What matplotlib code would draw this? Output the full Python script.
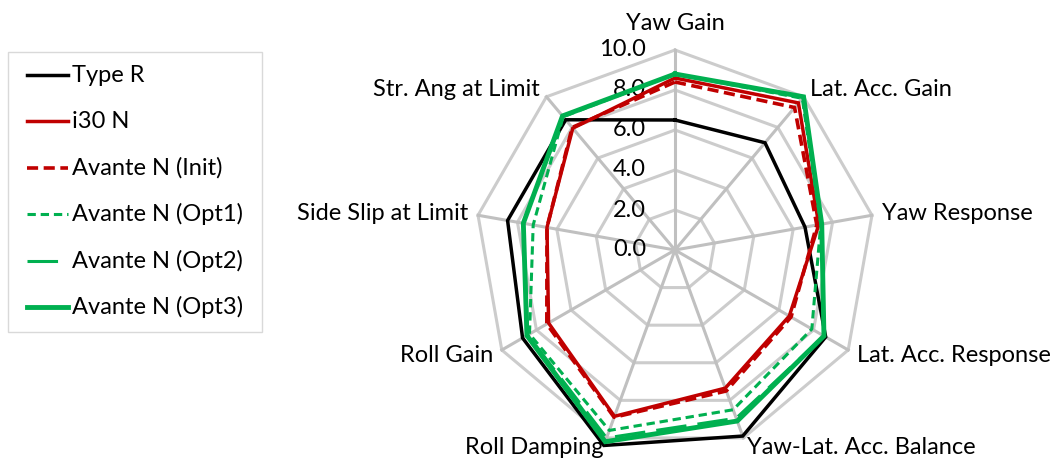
import numpy as np
import matplotlib
matplotlib.use("Agg")
import matplotlib.pyplot as plt
from matplotlib.patches import Rectangle
from matplotlib.lines import Line2D

plt.rcParams['font.family'] = ['Lato', 'DejaVu Sans']
plt.rcParams['lines.scale_dashes'] = False

categories = ["Yaw Gain", "Lat. Acc. Gain", "Yaw Response", "Lat. Acc. Response",
              "Yaw-Lat. Acc. Balance", "Roll Damping", "Roll Gain",
              "Side Slip at Limit", "Str. Ang at Limit"]
type_r      = [6.5, 7.0, 6.6, 8.7, 9.9, 10.4, 8.8, 8.5, 8.5]
i30_n       = [8.6, 9.6, 7.3, 6.6, 7.35, 8.85, 7.3, 6.5, 7.95]
avante_init = [8.4, 9.3, 7.2, 6.7, 7.5, 8.9, 7.4, 6.5, 8.0]
avante_opt1 = [8.8, 9.9, 7.4, 7.9, 8.5, 9.6, 8.4, 7.2, 8.7]
avante_opt2 = [8.8, 10.0, 7.45, 8.6, 8.95, 10.0, 8.5, 7.7, 8.75]
avante_opt3 = [8.8, 10.0, 7.45, 8.6, 9.1, 10.2, 8.55, 7.7, 8.75]
ring_values = [0, 2, 4, 6, 8, 10]
ring_labels = ["0.0", "2.0", "4.0", "6.0", "8.0", "10.0"]

W, H = 1055, 461
fig = plt.figure(figsize=(W / 100, H / 100), dpi=100)
ax = fig.add_axes([0, 0, 1, 1])
ax.set_axis_off()
cx, cy, scale = 675, 250, 20.0
ax.set_xlim(-cx / scale, (W - cx) / scale)
ax.set_ylim(-(H - cy) / scale, cy / scale)

n = len(categories)
ang = np.deg2rad(np.arange(n) * 360.0 / n)
sx, sy = np.sin(ang), np.cos(ang)

def poly(vals):
    v = np.asarray(vals, dtype=float)
    x = v * sx
    y = v * sy
    return np.append(x, x[0]), np.append(y, y[0])

grid_c = '#cccccc'
for rv in ring_values[1:]:
    x, y = poly([rv] * n)
    ax.plot(x, y, color=grid_c, lw=2.2, zorder=1, solid_joinstyle='miter')
for i in range(n):
    ax.plot([0, 10 * sx[i]], [0, 10 * sy[i]], color='#c0c0c0', lw=2.2, zorder=1)

FS = 17
for rv, rl in zip(ring_values, ring_labels):
    ax.text(-1.45, rv, rl, ha='right', va='center', fontsize=FS, color='#000000', zorder=2)

for i, c in enumerate(categories):
    if i == 0:
        ax.text(0, 11.35, c, ha='center', va='center', fontsize=FS)
    else:
        r = 10.5
        ha = 'left' if sx[i] > 0 else 'right'
        ax.text(r * sx[i], r * sy[i], c, ha=ha, va='center', fontsize=FS)

series = [
    ("Type R", type_r, dict(color='#000000', lw=2.5)),
    ("i30 N", i30_n, dict(color='#c00000', lw=2.5)),
    ("Avante N (Init)", avante_init, dict(color='#c00000', lw=2.6, dashes=(8, 4))),
    ("Avante N (Opt1)", avante_opt1, dict(color='#00b050', lw=2.2, dashes=(6, 3.5))),
    ("Avante N (Opt2)", avante_opt2, dict(color='#00b050', lw=2.2, dashes=(22, 8))),
    ("Avante N (Opt3)", avante_opt3, dict(color='#00b050', lw=3.5)),
]
for k, (name, vals, st) in enumerate(series):
    x, y = poly(vals)
    ax.plot(x, y, zorder=3 + k, solid_joinstyle='miter', **st)

# legend box drawn in figure pixel coordinates
def fx(px):
    return px / W

def fy(py):
    return 1 - py / H

fig.patches.append(Rectangle((fx(8), fy(332)), fx(262) - fx(8), fy(52) - fy(332),
                             transform=fig.transFigure, fill=False,
                             edgecolor='#d9d9d9', lw=1.0, zorder=10))
row_y = [75, 121, 168, 214, 261, 307]
for (name, vals, st), ry in zip(series, row_y):
    ln = Line2D([fx(27), fx(68)], [fy(ry), fy(ry)], transform=fig.transFigure, **st)
    fig.lines.append(ln)
    fig.text(fx(72), fy(ry), name, ha='left', va='center', fontsize=FS)

fig.savefig('out.png', dpi=100)
